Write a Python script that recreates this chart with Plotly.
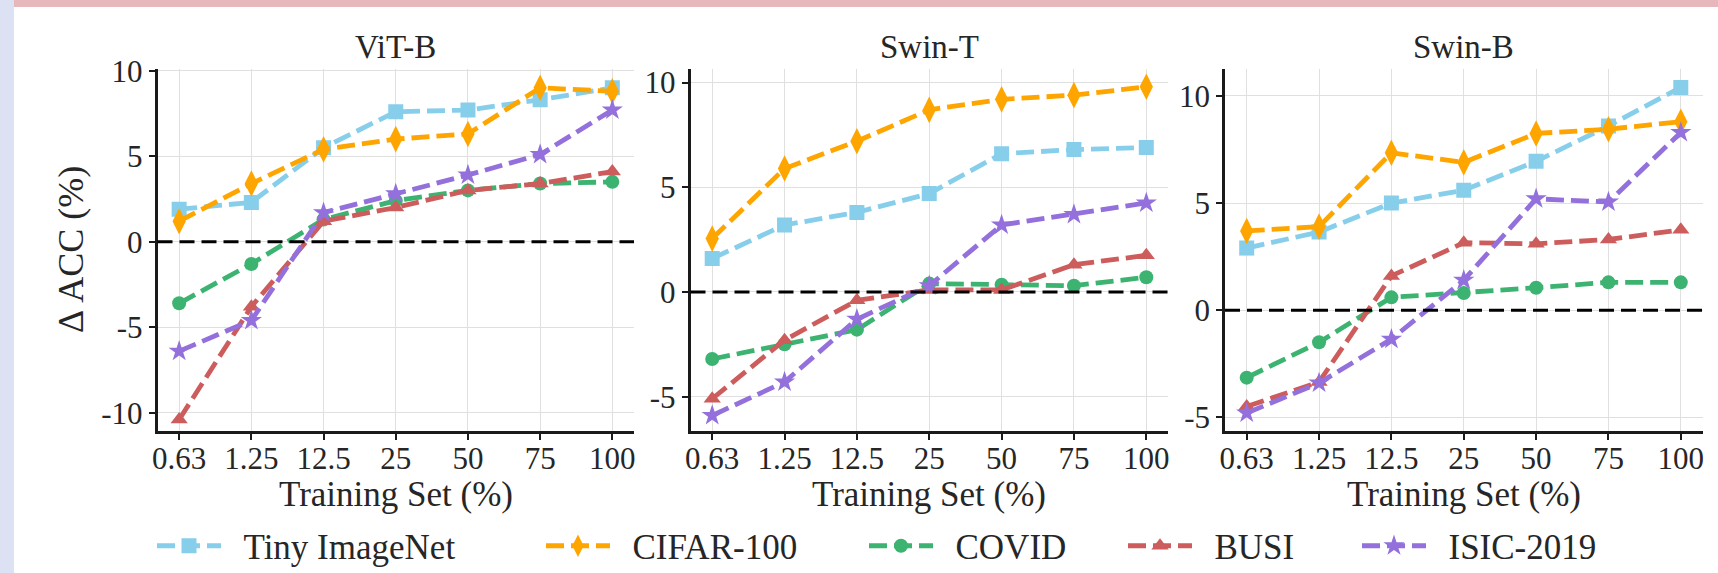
import plotly.graph_objects as go

# ---------------- data ----------------
categories = ["0.63", "1.25", "12.5", "25", "50", "75", "100"]
series_names = ["Tiny ImageNet", "CIFAR-100", "COVID", "BUSI", "ISIC-2019"]
panel_titles = ["ViT-B", "Swin-T", "Swin-B"]

vitb_tiny = [1.9, 2.3, 5.5, 7.6, 7.7, 8.3, 9.0]
vitb_cifar = [1.2, 3.4, 5.4, 6.0, 6.3, 9.0, 8.8]
vitb_covid = [-3.6, -1.3, 1.3, 2.4, 3.0, 3.4, 3.5]
vitb_busi = [-10.4, -3.8, 1.2, 2.0, 3.0, 3.4, 4.1]
vitb_isic = [-6.4, -4.6, 1.7, 2.8, 3.9, 5.1, 7.7]

swint_tiny = [1.6, 3.2, 3.8, 4.7, 6.6, 6.8, 6.9]
swint_cifar = [2.55, 5.9, 7.2, 8.7, 9.2, 9.4, 9.8]
swint_covid = [-3.2, -2.5, -1.8, 0.4, 0.35, 0.3, 0.7]
swint_busi = [-5.1, -2.3, -0.4, 0.1, 0.1, 1.3, 1.75]
swint_isic = [-5.9, -4.3, -1.3, 0.3, 3.2, 3.7, 4.25]

swinb_tiny = [2.9, 3.65, 5.0, 5.6, 6.95, 8.6, 10.4]
swinb_cifar = [3.7, 3.9, 7.35, 6.9, 8.25, 8.45, 8.8]
swinb_covid = [-3.15, -1.5, 0.6, 0.8, 1.05, 1.3, 1.3]
swinb_busi = [-4.5, -3.35, 1.6, 3.15, 3.1, 3.3, 3.75]
swinb_isic = [-4.8, -3.4, -1.35, 1.4, 5.2, 5.05, 8.3]

vitb_tickvals = [-10, -5, 0, 5, 10]
vitb_ticktext = ["-10", "-5", "0", "5", "10"]
swin_tickvals = [-5, 0, 5, 10]
swin_ticktext = ["-5", "0", "5", "10"]

x_title = "Training Set (%)"
y_title = "Δ ACC (%)"

# ---------------- styles ----------------
colors = ["#87CEEB", "#FFA500", "#3CB371", "#CD5C5C", "#9370DB"]
symbols = ["square", "diamond-tall", "circle", "triangle-up", "star"]
msizes = [15, 19, 14, 15, 16]
ITEMW = 64
legend_widths = [310, 244, 180, 155, 160]
NB = "\u00a0\u00a0"

FONT = "Liberation Serif, 'Times New Roman', serif"
TXT = "#262626"
W, H = 1718, 573

panels = [
    [vitb_tiny, vitb_cifar, vitb_covid, vitb_busi, vitb_isic],
    [swint_tiny, swint_cifar, swint_covid, swint_busi, swint_isic],
    [swinb_tiny, swinb_cifar, swinb_covid, swinb_busi, swinb_isic],
]
yranges = [[-11.07, 10.1], [-6.64, 10.65], [-5.64, 11.26]]
tickvals = [vitb_tickvals, swin_tickvals, swin_tickvals]
ticktexts = [vitb_ticktext, swin_ticktext, swin_ticktext]

# pixel layout
xdoms_px = [(157.5, 634), (690.5, 1168), (1225, 1702.5)]
ytop_px, ybot_px = 69, 431

fig = go.Figure()

for p, series in enumerate(panels):
    ax = "" if p == 0 else str(p + 1)
    for i, vals in enumerate(series):
        fig.add_trace(go.Scatter(
            x=categories, y=vals, name=NB + series_names[i],
            mode="lines+markers",
            line=dict(color=colors[i], width=4.8, dash="18px,7px"),
            marker=dict(symbol=symbols[i], size=msizes[i], color=colors[i],
                        line=dict(width=0)),
            xaxis="x" + ax, yaxis="y" + ax,
            showlegend=(p == 0), legendwidth=legend_widths[i],
        ))

layout = dict(
    width=W, height=H, autosize=False,
    margin=dict(l=0, r=0, t=0, b=0, pad=0, autoexpand=False),
    paper_bgcolor="white", plot_bgcolor="white",
    font=dict(family=FONT, color=TXT, size=31),
    showlegend=True,
    legend=dict(
        orientation="h", xref="paper", yref="paper",
        x=152 / W, y=1 - 546 / H, xanchor="left", yanchor="middle",
        font=dict(family=FONT, size=35, color=TXT),
        itemwidth=ITEMW, bgcolor="rgba(0,0,0,0)", borderwidth=0,
        tracegroupgap=0,
    ),
)

shapes = [
    dict(type="rect", xref="paper", yref="paper", x0=0, x1=14 / W, y0=0, y1=1,
         fillcolor="#DCE2F3", line=dict(width=0), layer="below"),
    dict(type="rect", xref="paper", yref="paper", x0=14 / W, x1=1, y0=1 - 7 / H, y1=1,
         fillcolor="#E6B8BC", line=dict(width=0), layer="below"),
]
annotations = []

for p in range(3):
    ax = "" if p == 0 else str(p + 1)
    x0, x1 = xdoms_px[p]
    layout["xaxis" + ax] = dict(
        domain=[x0 / W, x1 / W], anchor="y" + ax,
        type="category", range=[-0.3, 6.3],
        showline=True, linecolor="#1a1a1a", linewidth=2.5,
        ticks="outside", ticklen=6, tickwidth=2, tickcolor="#1a1a1a",
        ticklabelstandoff=-8,
        showgrid=True, gridcolor="#e0e0e0", gridwidth=1.2,
        zeroline=False, automargin=False,
        tickfont=dict(family=FONT, size=31, color=TXT),
    )
    layout["yaxis" + ax] = dict(
        domain=[1 - ybot_px / H, 1 - ytop_px / H], anchor="x" + ax,
        range=yranges[p], tickvals=tickvals[p], ticktext=ticktexts[p],
        showline=True, linecolor="#1a1a1a", linewidth=2.5,
        ticks="outside", ticklen=6, tickwidth=2, tickcolor="#1a1a1a",
        showgrid=True, gridcolor="#e0e0e0", gridwidth=1.2,
        zeroline=False, automargin=False,
        tickfont=dict(family=FONT, size=31, color=TXT),
    )
    shapes.append(dict(type="line", xref="x" + ax + " domain", yref="y" + ax,
                       x0=0, x1=1, y0=0, y1=0, layer="above",
                       line=dict(color="black", width=3, dash="15px,7px")))
    annotations.append(dict(text=panel_titles[p], xref="x" + ax + " domain", yref="y" + ax + " domain",
                            x=0.5, y=1, xanchor="center", yanchor="bottom", yshift=2,
                            showarrow=False, font=dict(family=FONT, size=33, color=TXT)))
    annotations.append(dict(text=x_title, xref="x" + ax + " domain", yref="paper",
                            x=0.5, y=1 - 494 / H, xanchor="center", yanchor="middle",
                            showarrow=False, font=dict(family=FONT, size=35, color=TXT)))

annotations.append(dict(text=y_title, xref="paper", yref="paper", textangle=-90,
                        x=71 / W, y=1 - 250 / H, xanchor="center", yanchor="middle",
                        showarrow=False, font=dict(family=FONT, size=36, color=TXT)))

layout["shapes"] = shapes
layout["annotations"] = annotations
fig.update_layout(**layout)

fig.write_html("out.html", config={"displayModeBar": False},
               post_script="document.body.style.margin='0';document.body.style.overflow='hidden';")
